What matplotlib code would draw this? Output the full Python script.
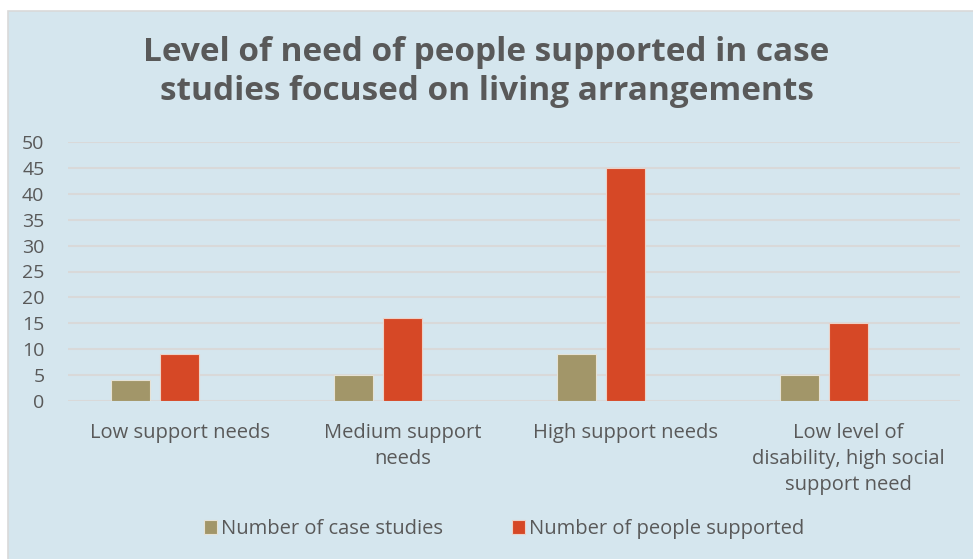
import matplotlib
matplotlib.use("Agg")
import matplotlib.pyplot as plt
from matplotlib.patches import Rectangle
import numpy as np

categories = [
    "Low support needs",
    "Medium support\nneeds",
    "High support needs",
    "Low level of\ndisability, high social\nsupport need",
]
case_studies = [4, 5, 9, 5]
people_supported = [9, 16, 45, 15]
series_names = ["Number of case studies", "Number of people supported"]
y_ticks = [0, 5, 10, 15, 20, 25, 30, 35, 40, 45, 50]
title = "Level of need of people supported in case\nstudies focused on living arrangements"

bg = "#d5e6ee"
text_col = "#595959"
grid_col = "#d9d9d9"
col_case = "#a29669"
col_people = "#d64826"

plt.rcParams["font.family"] = ["Open Sans", "DejaVu Sans"]

fig = plt.figure(figsize=(9.73, 5.59), dpi=100, facecolor="white")
fig.patches.append(Rectangle((8 / 973, -0.05), 1.0, 1 - 11 / 559 + 0.05,
                             transform=fig.transFigure, facecolor=bg,
                             edgecolor=grid_col, linewidth=1.2, zorder=-10))

ax = fig.add_axes([68 / 973, 1 - 401 / 559, (960 - 68) / 973, (401 - 142) / 559])
ax.set_facecolor("none")
ax.set_zorder(5)

x = np.arange(len(categories))
w = 0.175
off = 0.22
ax.bar(x - off, case_studies, w, color=col_case, edgecolor="#e6e2d6",
       linewidth=0.8, zorder=3, label=series_names[0])
ax.bar(x, people_supported, w, color=col_people, edgecolor="#ecd2c8",
       linewidth=0.8, zorder=3, label=series_names[1])

ax.set_xlim(-0.5, len(categories) - 0.5)
ax.set_ylim(0, 50)
ax.set_yticks(y_ticks)
ax.yaxis.grid(True, color=grid_col, linewidth=1.5, zorder=0)
ax.set_axisbelow(True)
for s in ax.spines.values():
    s.set_visible(False)
ax.tick_params(axis="both", length=0, labelsize=14, labelcolor=text_col)
ax.tick_params(axis="y", pad=17)
ax.set_xticks(x)
ax.set_xticklabels(categories, linespacing=1.4, fontsize=14.5)
ax.tick_params(axis="x", pad=16)
for lbl in ax.get_xticklabels():
    lbl.set_verticalalignment("top")

fig.text(0.5, 1 - 72 / 559, title, ha="center", va="center",
         fontsize=24, fontweight="bold", color=text_col, linespacing=1.25,
         zorder=6)

leg = fig.legend(loc="center", bbox_to_anchor=(0.518, 1 - 529 / 559), ncol=2,
                 frameon=False, fontsize=14.5, handlelength=0.65, handleheight=0.65,
                 handletextpad=0.2, columnspacing=3.4)
leg.set_zorder(6)
for t in leg.get_texts():
    t.set_color(text_col)

fig.savefig("out.png", dpi=100, facecolor="white")
